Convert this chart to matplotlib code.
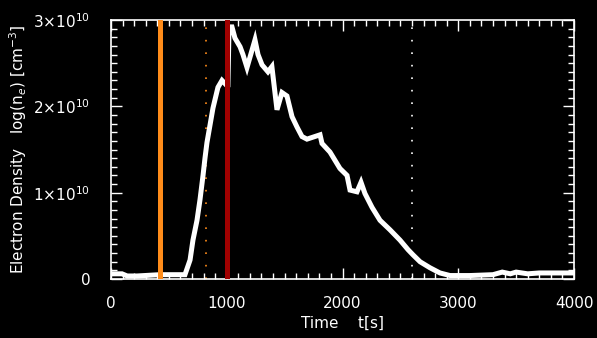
import matplotlib
matplotlib.use("Agg")
import matplotlib.pyplot as plt
from matplotlib.ticker import MultipleLocator
import numpy as np

# electron density curve (t in s, n_e in 1e10 cm^-3)
t = [0, 95, 140, 225, 420, 639, 683, 708, 743, 769, 795, 812, 829, 881, 924,
     959, 994, 1010, 1020, 1045, 1071, 1115, 1140, 1175, 1244, 1270, 1305,
     1356, 1390, 1434, 1477, 1520, 1564, 1607, 1650, 1693, 1806, 1823, 1892,
     1978, 2039, 2065, 2125, 2160, 2194, 2255, 2324, 2410, 2497, 2566, 2609,
     2670, 2756, 2842, 2929, 3100, 3300, 3380, 3450, 3500, 3600, 3700, 4000]
ne = [0.06, 0.06, 0.035, 0.035, 0.05, 0.05, 0.22, 0.45, 0.68, 0.92, 1.2,
      1.4, 1.58, 1.98, 2.22, 2.3, 2.25, 2.25, 2.92, 2.92, 2.79, 2.69, 2.6,
      2.45, 2.77, 2.6, 2.48, 2.40, 2.46, 1.96, 2.16, 2.12, 1.88, 1.76, 1.65,
      1.62, 1.67, 1.57, 1.47, 1.28, 1.2, 1.03, 1.01, 1.12, 0.99, 0.83, 0.68,
      0.57, 0.45, 0.34, 0.28, 0.2, 0.13, 0.07, 0.04, 0.04, 0.05, 0.08, 0.06,
      0.08, 0.06, 0.07, 0.07]

t_orange = 420
t_red = 1000
t_dot_orange = 825
t_dot_white = 2600

xticks = [0, 1000, 2000, 3000, 4000]
yticks = [0, 1e10, 2e10, 3e10]
ylabels = ["0", r"1$\times$10$^{10}$", r"2$\times$10$^{10}$", r"3$\times$10$^{10}$"]

fig = plt.figure(figsize=(5.97, 3.38), dpi=100, facecolor="black")
ax = fig.add_axes([111/597, 1-279/338, 463/597, 259/338], facecolor="black")

ax.plot(t, np.array(ne)*1e10, color="white", lw=3.6, solid_joinstyle="miter", zorder=3)
ax.axvline(t_orange, color="#ff8c1a", lw=3.6, zorder=4)
ax.axvline(t_red, color="#a00000", lw=3.6, zorder=4)
ax.axvline(t_dot_orange, color="#ff8c1a", lw=1.2, ls=(0, (1, 6.5)), zorder=1)
ax.axvline(t_dot_white, color="white", lw=1.2, ls=(0, (1, 6.5)), zorder=1)

ax.set_xlim(0, 4000)
ax.set_ylim(0, 3e10)
ax.set_xticks(xticks)
ax.set_xticklabels([str(v) for v in xticks])
ax.set_yticks(yticks)
ax.set_yticklabels(ylabels)
ax.xaxis.set_minor_locator(MultipleLocator(100))
ax.yaxis.set_minor_locator(MultipleLocator(1e9))

for s in ax.spines.values():
    s.set_color("white")
    s.set_linewidth(1.2)
ax.tick_params(which="both", direction="in", colors="white", top=True, right=True,
               labelsize=11, width=1)
ax.tick_params(which="major", length=8)
ax.tick_params(which="minor", length=4)
ax.tick_params(axis="x", which="major", pad=12)
ax.tick_params(axis="y", which="major", pad=15)

ax.set_xlabel("Time    t[s]", color="white", fontsize=11, labelpad=4)
ax.set_ylabel(r"Electron Density   log(n$_e$) [cm$^{-3}$]", color="white",
              fontsize=11, labelpad=3)

fig.savefig("out.png", dpi=100, facecolor="black")
